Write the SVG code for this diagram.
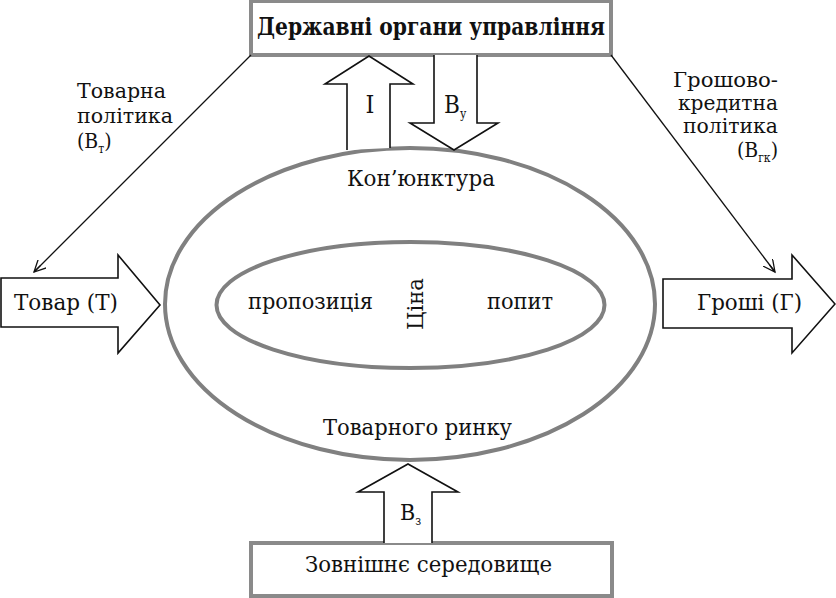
<svg xmlns="http://www.w3.org/2000/svg" width="836" height="598" viewBox="0 0 836 598">
<style>
.box{fill:#fff;stroke:#8a8a8a;stroke-width:4}
.ell{fill:none;stroke:#808080;stroke-width:4}
.arr{fill:#fff;stroke:#111;stroke-width:1.6;stroke-linejoin:miter}
.ln{stroke:#111;stroke-width:1.3;fill:none}
text{font-family:'DejaVu Serif Condensed','DejaVu Serif',serif;font-size:23px;fill:#111}
.sub{font-size:12px}
.lbl{font-size:21px}
</style>
<defs>
<marker id="ah" markerWidth="14" markerHeight="12" refX="12" refY="6" orient="auto" markerUnits="userSpaceOnUse">
<path d="M0,0 L12,6 L0,12 M12,6 L3,6" fill="none" stroke="#111" stroke-width="1.3"/>
</marker>
</defs>
<rect width="836" height="598" fill="#fff"/>

<g id="market">
<ellipse class="ell" cx="410" cy="304" rx="245" ry="156"/>
<text x="347" y="186" textLength="148" lengthAdjust="spacingAndGlyphs">Кон’юнктура</text>
<text x="323" y="435" textLength="189" lengthAdjust="spacingAndGlyphs">Товарного ринку</text>
</g>

<g id="price">
<ellipse class="ell" cx="410.5" cy="305" rx="194" ry="63"/>
<text x="248" y="309" textLength="125" lengthAdjust="spacingAndGlyphs">пропозиція</text>
<text x="487" y="309" textLength="66" lengthAdjust="spacingAndGlyphs">попит</text>
<text transform="translate(423,330) rotate(-90)" textLength="52" lengthAdjust="spacingAndGlyphs">Ціна</text>
</g>

<g id="gov">
<rect class="box" x="251" y="1" width="360" height="54"/>
<text x="257" y="35" font-weight="bold" style="font-size:24px" textLength="348" lengthAdjust="spacingAndGlyphs">Державні органи управління</text>
</g>

<g id="env">
<rect class="box" x="251" y="543" width="361" height="53"/>
<text x="305" y="572" textLength="247" lengthAdjust="spacingAndGlyphs">Зовнішнє середовище</text>
</g>

<g id="tovar">
<path class="arr" d="M1,278 H118 V255 L160,305 L118,353 V327 H1 Z"/>
<text x="14" y="310" textLength="104" lengthAdjust="spacingAndGlyphs">Товар (Т)</text>
</g>

<g id="groshi">
<path class="arr" d="M663,279 H792 V255 L835,304 L792,353 V328 H663 Z"/>
<text x="697" y="310" textLength="105" lengthAdjust="spacingAndGlyphs">Гроші (Г)</text>
</g>

<g id="connectors">
<path class="arr" d="M347,150 V84 H325 L369,56 L413,84 H390 V148"/>
<text x="370" y="113" text-anchor="middle" style="font-size:25px">I</text>
<path class="arr" d="M434,55 V123 H410 L454,150 L498,123 H477 V55"/>
<text x="444" y="113" style="font-size:24px">В<tspan class="sub" dy="5">у</tspan></text>
<path class="arr" d="M384,543 V492 H358 L408,464 L458,492 H432 V543"/>
<text x="400" y="520">В<tspan class="sub" dy="5">з</tspan></text>
<line class="ln" x1="251" y1="55" x2="34" y2="272" marker-end="url(#ah)"/>
<line class="ln" x1="611" y1="55" x2="775" y2="272" marker-end="url(#ah)"/>
</g>

<g id="labels">
<text class="lbl" x="77" y="98" textLength="89" lengthAdjust="spacingAndGlyphs">Товарна</text>
<text class="lbl" x="77" y="123" textLength="96" lengthAdjust="spacingAndGlyphs">політика</text>
<text class="lbl" x="77" y="148">(В<tspan class="sub" dy="5">т</tspan><tspan dy="-5">)</tspan></text>
<text class="lbl" x="673" y="87" textLength="105" lengthAdjust="spacingAndGlyphs">Грошово-</text>
<text class="lbl" x="678" y="110" textLength="100" lengthAdjust="spacingAndGlyphs">кредитна</text>
<text class="lbl" x="683" y="133" textLength="95" lengthAdjust="spacingAndGlyphs">політика</text>
<text class="lbl" x="778" y="157" text-anchor="end">(В<tspan class="sub" dy="5">гк</tspan><tspan dy="-5">)</tspan></text>
</g>
</svg>
